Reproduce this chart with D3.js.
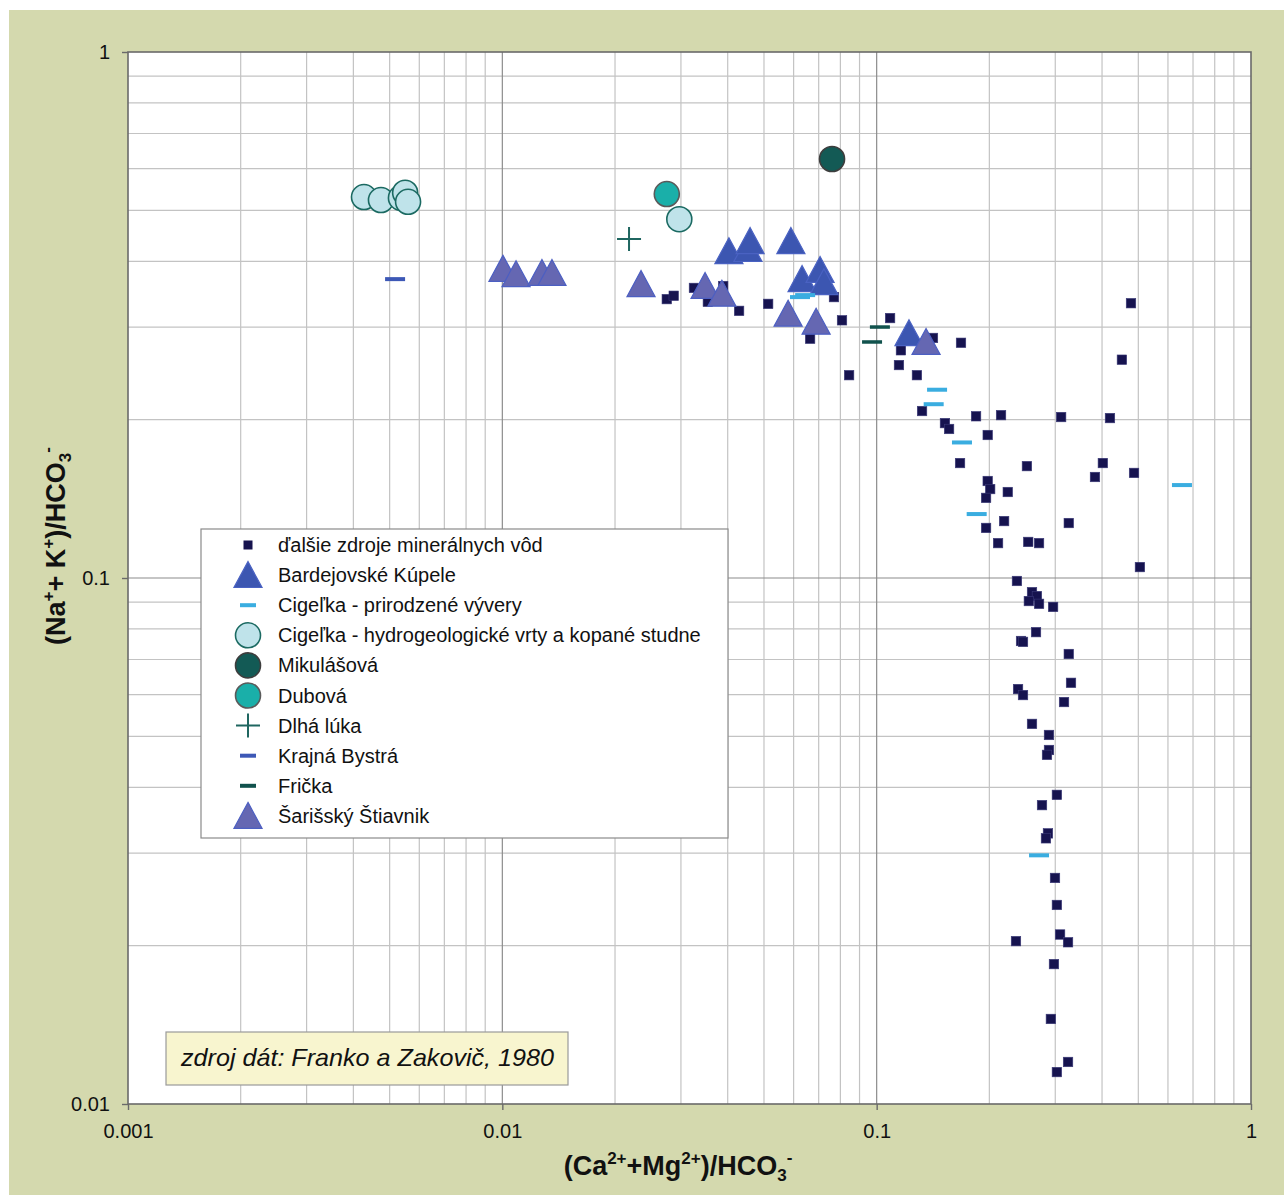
<!DOCTYPE html>
<html><head><meta charset="utf-8">
<script src="https://cdn.jsdelivr.net/npm/d3@7"></script>
<style>body{margin:0;background:#fff}svg{display:block;font-family:"Liberation Sans",Arial,sans-serif}</style>
</head><body><svg id="c" width="1284" height="1195"></svg>
<script>
// ---- DATA ----
const xTickLabels = ["0.001","0.01","0.1","1"];
const yTickLabels = ["0.01","0.1","1"];
const xTickValues = [0.001,0.01,0.1,1];
const yTickValues = [0.01,0.1,1];

const otherX = [0.0275,0.0287,0.0325,0.0354,0.0389,0.0429,0.0513,0.0664,0.0769,0.0808,0.0844,0.1086,0.1161,0.1147,0.1281,0.1414,0.168,0.478,0.452,0.1322,0.1843,0.2149,0.311,0.420,0.1522,0.1561,0.198,0.167,0.252,0.402,0.383,0.487,0.198,0.201,0.196,0.224,0.219,0.326,0.196,0.211,0.254,0.2715,0.505,0.237,0.260,0.268,0.255,0.2715,0.296,0.2665,0.243,0.246,0.326,0.3305,0.2386,0.246,0.3166,0.260,0.2886,0.2886,0.2851,0.303,0.2765,0.2868,0.2833,0.2995,0.303,0.309,0.3245,0.2356,0.2976,0.292,0.3245,0.303];
const otherY = [0.339,0.344,0.356,0.335,0.359,0.322,0.332,0.285,0.342,0.309,0.243,0.312,0.271,0.254,0.243,0.286,0.280,0.333,0.260,0.2077,0.203,0.204,0.2023,0.2014,0.197,0.192,0.187,0.1654,0.1632,0.1654,0.1556,0.1584,0.1529,0.1476,0.1420,0.1457,0.1283,0.1272,0.1245,0.1165,0.1171,0.1165,0.1049,0.0987,0.0940,0.0924,0.0904,0.0893,0.0881,0.0789,0.0759,0.0756,0.0717,0.0632,0.0615,0.0599,0.0581,0.0528,0.0503,0.0471,0.0461,0.0387,0.0370,0.0327,0.0320,0.0269,0.0239,0.0210,0.0203,0.0204,0.01845,0.01451,0.01202,0.01150];

const bardejovX = [0.0403,0.0453,0.0459,0.0590,0.0632,0.0706,0.0723,0.122];
const bardejovY = [0.418,0.422,0.437,0.437,0.370,0.385,0.365,0.292];

const vyveryX = [0.0624,0.0644,0.145,0.142,0.169,0.185,0.654,0.2715];
const vyveryY = [0.342,0.345,0.228,0.214,0.181,0.1323,0.1502,0.0297];

const vrtyX = [0.00427,0.00474,0.00536,0.00550,0.00560,0.0297];
const vrtyY = [0.530,0.523,0.528,0.540,0.519,0.481];

const mikulasovaX = [0.0760];
const mikulasovaY = [0.626];

const dubovaX = [0.0275];
const dubovaY = [0.537];

const dlhaLukaX = [0.0218];
const dlhaLukaY = [0.441];

const krajnaX = [0.00517];
const krajnaY = [0.370];

const frickaX = [0.102,0.0972];
const frickaY = [0.300,0.281];

const stiavnikX = [0.01004,0.01088,0.01276,0.01357,0.02347,0.0348,0.0386,0.0580,0.0689,0.1355];
const stiavnikY = [0.387,0.378,0.380,0.380,0.362,0.359,0.347,0.318,0.307,0.281];

const seriesNames = ["ďalšie zdroje minerálnych vôd","Bardejovské Kúpele","Cigeľka - prirodzené vývery","Cigeľka - hydrogeologické vrty a kopané studne","Mikulášová","Dubová","Dlhá lúka","Krajná Bystrá","Frička","Šarišský Štiavnik"];
const sourceNote = "zdroj dát: Franko a Zakovič, 1980";

// ---- DRAW ----
const svg = d3.select("#c");
const L=128,R=1251,T=52,B=1104;
const x = d3.scaleLog().domain([0.001,1]).range([L,R]);
const y = d3.scaleLog().domain([0.01,1]).range([B,T]);

svg.append("rect").attr("x",9).attr("y",10).attr("width",1275).attr("height",1185).attr("fill","#d4d9ae");
svg.append("rect").attr("x",L).attr("y",T).attr("width",R-L).attr("height",B-T).attr("fill","#fff");

// grid
const minorX=[],minorY=[];
for(let e=-3;e<0;e++) for(let k=2;k<=9;k++) minorX.push(k*Math.pow(10,e));
for(let e=-2;e<0;e++) for(let k=2;k<=9;k++) minorY.push(k*Math.pow(10,e));
const g = svg.append("g");
g.selectAll(".vx").data(minorX).join("line").attr("x1",d=>x(d)).attr("x2",d=>x(d)).attr("y1",T).attr("y2",B).attr("stroke","#c3c3c3").attr("stroke-width",1.2);
g.selectAll(".hy").data(minorY).join("line").attr("y1",d=>y(d)).attr("y2",d=>y(d)).attr("x1",L).attr("x2",R).attr("stroke","#c3c3c3").attr("stroke-width",1.2);
g.selectAll(".vX").data(xTickValues.slice(1,3)).join("line").attr("x1",d=>x(d)).attr("x2",d=>x(d)).attr("y1",T).attr("y2",B).attr("stroke","#8c8c8c").attr("stroke-width",1.2);
g.selectAll(".hY").data(yTickValues.slice(1,2)).join("line").attr("y1",d=>y(d)).attr("y2",d=>y(d)).attr("x1",L).attr("x2",R).attr("stroke","#8c8c8c").attr("stroke-width",1.2);
// border
svg.append("rect").attr("x",L).attr("y",T).attr("width",R-L).attr("height",B-T).attr("fill","none").attr("stroke","#6a6a6a").attr("stroke-width",1.6);

// axes
const xa = svg.append("g").attr("transform",`translate(0,${B})`).call(d3.axisBottom(x).tickValues(xTickValues).tickFormat((d,i)=>xTickLabels[i]).tickSize(6).tickPadding(14));
const ya = svg.append("g").attr("transform",`translate(${L},0)`).call(d3.axisLeft(y).tickValues(yTickValues).tickFormat((d,i)=>yTickLabels[i]).tickSize(6).tickPadding(10));
[xa,ya].forEach(a=>{a.select(".domain").remove();a.selectAll("line").attr("stroke","#6a6a6a").attr("stroke-width",1.4);a.selectAll("text").attr("font-size",20).attr("fill","#111").attr("font-family","Liberation Sans, Arial, sans-serif");});
ya.selectAll("text").attr("dx",-2);

// axis titles
const xt = svg.append("text").attr("x",678).attr("y",1175).attr("text-anchor","middle").attr("font-size",27).attr("font-weight","bold").attr("fill","#111");
xt.append("tspan").text("(Ca");
xt.append("tspan").text("2+").attr("font-size",17).attr("dy",-11);
xt.append("tspan").text("+Mg").attr("dy",11);
xt.append("tspan").text("2+").attr("font-size",17).attr("dy",-11);
xt.append("tspan").text(")/HCO").attr("dy",11);
xt.append("tspan").text("3").attr("font-size",17).attr("dy",6);
xt.append("tspan").text("-").attr("font-size",17).attr("dy",-18);

const yt = svg.append("text").attr("transform","translate(65,546) rotate(-90)").attr("text-anchor","middle").attr("font-size",27).attr("font-weight","bold").attr("fill","#111");
yt.append("tspan").text("(Na");
yt.append("tspan").text("+").attr("font-size",17).attr("dy",-11);
yt.append("tspan").text("+ K").attr("dy",11);
yt.append("tspan").text("+").attr("font-size",17).attr("dy",-11);
yt.append("tspan").text(")/HCO").attr("dy",11);
yt.append("tspan").text("3").attr("font-size",17).attr("dy",6);
yt.append("tspan").text("-").attr("font-size",17).attr("dy",-18);

// marker helpers
const tri = (s)=>`M0,${-s*0.5}L${s*0.52},${s*0.46}L${-s*0.52},${s*0.46}Z`;
function drawSquares(gg,xs,ys,sz,fill){gg.selectAll(null).data(xs).join("rect").attr("x",(d,i)=>x(d)-sz/2).attr("y",(d,i)=>y(ys[i])-sz/2).attr("width",sz).attr("height",sz).attr("fill",fill).attr("stroke","#3b3a78").attr("stroke-width",0.6);}
function drawTris(gg,xs,ys,sz,fill,stroke){gg.selectAll(null).data(xs).join("path").attr("d",tri(sz)).attr("transform",(d,i)=>`translate(${x(d)},${y(ys[i])})`).attr("fill",fill).attr("stroke",stroke).attr("stroke-width",1.2);}
function drawDash(gg,xs,ys,w,h,fill){gg.selectAll(null).data(xs).join("rect").attr("x",d=>x(d)-w/2).attr("y",(d,i)=>y(ys[i])-h/2).attr("width",w).attr("height",h).attr("fill",fill);}
function drawCircles(gg,xs,ys,r,fill,stroke){gg.selectAll(null).data(xs).join("circle").attr("cx",d=>x(d)).attr("cy",(d,i)=>y(ys[i])).attr("r",r).attr("fill",fill).attr("stroke",stroke).attr("stroke-width",1.6);}
function drawPlus(gg,xs,ys,a,stroke){xs.forEach((d,i)=>{const cx=x(d),cy=y(ys[i]);gg.append("path").attr("d",`M${cx-a},${cy}H${cx+a}M${cx},${cy-a}V${cy+a}`).attr("stroke",stroke).attr("stroke-width",2).attr("fill","none");});}

const C = {sq:"#16134f",bar:"#3c56b1",barS:"#4a62c2",viv:"#3aade0",vrt:"#bfe3ea",vrtS:"#1b6a62",mik:"#135a55",mikS:"#3d3d3d",dub:"#1aafa9",dubS:"#5a5a5a",dlh:"#1f6660",kra:"#3d58b6",fri:"#11524d",sti:"#6567b2",stiS:"#4c5fc2"};

const m = svg.append("g");
drawSquares(m.append("g"),otherX,otherY,9.5,C.sq);
drawTris(m.append("g"),bardejovX,bardejovY,27,C.bar,C.barS);
drawDash(m.append("g"),vyveryX,vyveryY,20,4,C.viv);
drawCircles(m.append("g"),vrtyX,vrtyY,12.5,C.vrt,C.vrtS);
drawCircles(m.append("g"),mikulasovaX,mikulasovaY,12.5,C.mik,C.mikS);
drawCircles(m.append("g"),dubovaX,dubovaY,12.5,C.dub,C.dubS);
drawPlus(m.append("g"),dlhaLukaX,dlhaLukaY,12,C.dlh);
drawDash(m.append("g"),krajnaX,krajnaY,20,4,C.kra);
drawDash(m.append("g"),frickaX,frickaY,20,3.5,C.fri);
drawTris(m.append("g"),stiavnikX,stiavnikY,27,C.sti,C.stiS);

// legend
const lg = svg.append("g");
lg.append("rect").attr("x",201).attr("y",529).attr("width",527).attr("height",309).attr("fill","#fff").attr("stroke","#8a8a8a").attr("stroke-width",1.2);
const rowY = d3.range(seriesNames.length).map(i=>545+i*30.1);
const sx=248;
seriesNames.forEach((n,i)=>{
  const cy=rowY[i], s=lg.append("g");
  if(i===0) s.append("rect").attr("x",sx-4.5).attr("y",cy-4.5).attr("width",9).attr("height",9).attr("fill",C.sq);
  if(i===1) s.append("path").attr("d",tri(27)).attr("transform",`translate(${sx},${cy})`).attr("fill",C.bar).attr("stroke",C.barS).attr("stroke-width",1.2);
  if(i===2) s.append("rect").attr("x",sx-8).attr("y",cy-2).attr("width",16).attr("height",4).attr("fill",C.viv);
  if(i===3) s.append("circle").attr("cx",sx).attr("cy",cy).attr("r",12.5).attr("fill",C.vrt).attr("stroke",C.vrtS).attr("stroke-width",1.6);
  if(i===4) s.append("circle").attr("cx",sx).attr("cy",cy).attr("r",12.5).attr("fill",C.mik).attr("stroke",C.mikS).attr("stroke-width",1.6);
  if(i===5) s.append("circle").attr("cx",sx).attr("cy",cy).attr("r",12.5).attr("fill",C.dub).attr("stroke",C.dubS).attr("stroke-width",1.6);
  if(i===6) s.append("path").attr("d",`M${sx-12},${cy}H${sx+12}M${sx},${cy-12}V${cy+12}`).attr("stroke",C.dlh).attr("stroke-width",2);
  if(i===7) s.append("rect").attr("x",sx-8).attr("y",cy-2).attr("width",16).attr("height",4).attr("fill",C.kra);
  if(i===8) s.append("rect").attr("x",sx-8).attr("y",cy-2).attr("width",16).attr("height",4).attr("fill",C.fri);
  if(i===9) s.append("path").attr("d",tri(27)).attr("transform",`translate(${sx},${cy})`).attr("fill",C.sti).attr("stroke",C.stiS).attr("stroke-width",1.2);
  lg.append("text").attr("x",278).attr("y",cy+7).attr("font-size",20).attr("fill","#111").text(n);
});

// source note
svg.append("rect").attr("x",166).attr("y",1032).attr("width",402).attr("height",53).attr("fill","#f8f5cf").attr("stroke","#9a9a9a").attr("stroke-width",1.2);
const st = svg.append("text").attr("x",181).attr("y",1066).attr("font-size",24).attr("font-style","italic").attr("fill","#111").text(sourceNote);
const w = st.node().getComputedTextLength();
if(w>0) st.attr("textLength",373).attr("lengthAdjust","spacingAndGlyphs");
</script></body></html>
